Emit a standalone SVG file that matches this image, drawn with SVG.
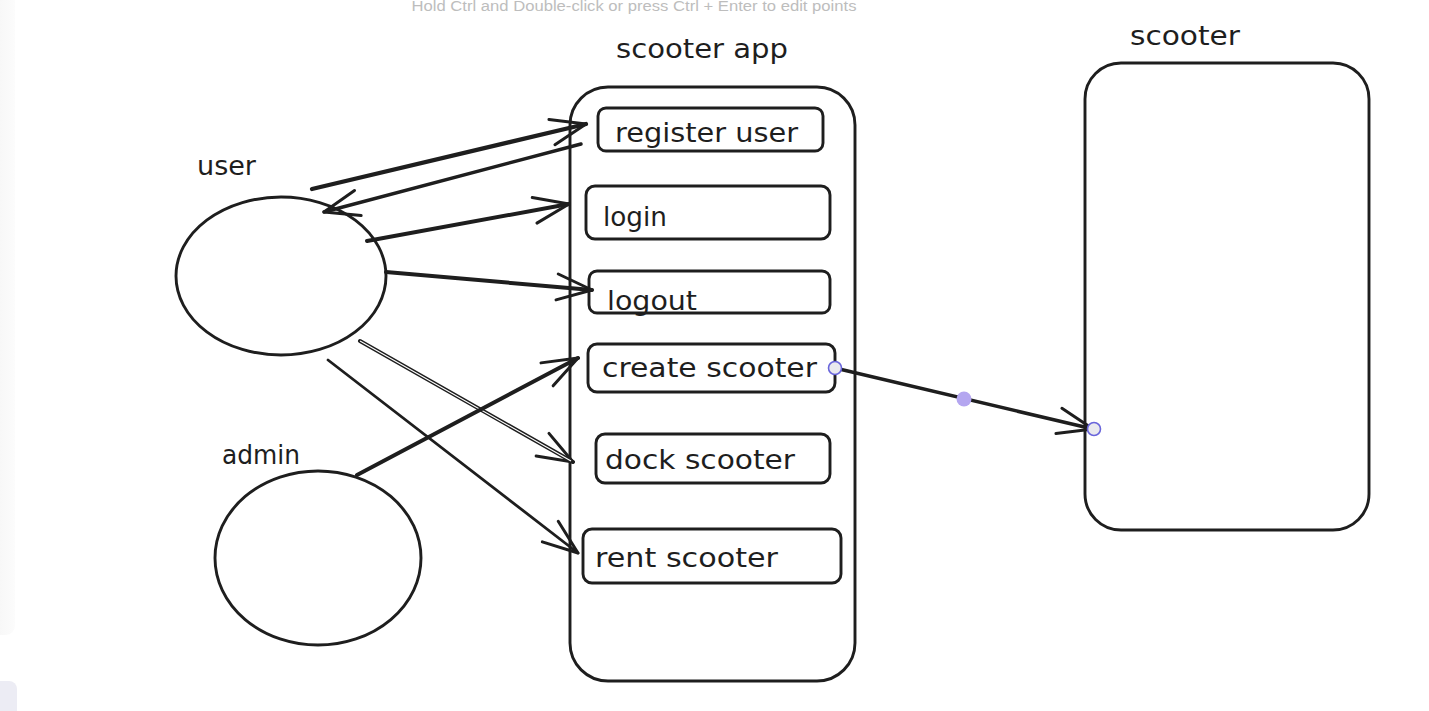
<svg xmlns="http://www.w3.org/2000/svg" width="1429" height="711" viewBox="0 0 1429 711">
<style>
.shape{fill:none;stroke:#1e1e1e;stroke-width:2.9;stroke-linejoin:round}
.box{fill:#ffffff;stroke:#1e1e1e;stroke-width:2.9}
.lbl{font-family:"DejaVu Sans","Liberation Sans",sans-serif;font-size:26px;fill:#1e1e1e}
.arr{fill:none;stroke:#1e1e1e;stroke-width:3.4;stroke-linecap:round;marker-end:url(#head)}
.hint{font-family:"Liberation Sans",Arial,sans-serif;font-size:14px;fill:#bdbdbd}
.handle{fill:#e9e9ee;stroke:#6965db;stroke-width:1.6}
</style>
<defs>
<marker id="head" markerUnits="userSpaceOnUse" orient="auto" refX="0" refY="0" markerWidth="60" markerHeight="40" overflow="visible">
<path d="M -35 -13 L 0 0 L -35 13" fill="none" stroke="#1e1e1e" stroke-width="3" stroke-linecap="round" stroke-linejoin="round"/>
</marker>
<linearGradient id="band" x1="0" y1="0" x2="1" y2="0">
<stop offset="0" stop-color="#f5f5f5"/>
<stop offset="1" stop-color="#fcfcfc"/>
</linearGradient>
</defs>
<rect width="1429" height="711" fill="#ffffff"/>
<rect x="-10" y="-10" width="25" height="645" rx="9" fill="url(#band)"/>
<rect x="-10" y="681" width="27" height="40" rx="8" fill="#ececf4"/>
<text class="hint" x="634" y="11" text-anchor="middle" textLength="445" lengthAdjust="spacingAndGlyphs">Hold Ctrl and Double-click or press Ctrl + Enter to edit points</text>

<g id="user">
<ellipse class="shape" cx="281" cy="276" rx="105" ry="79"/>
<text class="lbl" x="197" y="175" textLength="59" lengthAdjust="spacingAndGlyphs">user</text>
</g>
<g id="admin">
<ellipse class="shape" cx="318" cy="558" rx="103" ry="87"/>
<text class="lbl" x="222" y="464" textLength="78" lengthAdjust="spacingAndGlyphs">admin</text>
</g>

<g id="scooter-app">
<rect class="shape" x="570" y="87" width="285" height="594" rx="38"/>
<text class="lbl" x="616" y="58" textLength="172" lengthAdjust="spacingAndGlyphs">scooter app</text>
</g>
<g id="register-user">
<rect class="box" x="598" y="108" width="225" height="43" rx="8"/>
<text class="lbl" x="615" y="142" textLength="183" lengthAdjust="spacingAndGlyphs">register user</text>
</g>
<g id="login">
<rect class="box" x="586" y="186" width="244" height="53" rx="9"/>
<text class="lbl" x="603" y="226" textLength="64" lengthAdjust="spacingAndGlyphs">login</text>
</g>
<g id="logout">
<rect class="box" x="589" y="271" width="241" height="42" rx="8"/>
<text class="lbl" x="607" y="310" textLength="90" lengthAdjust="spacingAndGlyphs">logout</text>
</g>
<g id="create-scooter">
<rect class="box" x="588" y="344" width="247" height="48" rx="9"/>
<text class="lbl" x="602" y="377" textLength="215" lengthAdjust="spacingAndGlyphs">create scooter</text>
</g>
<g id="dock-scooter">
<rect class="box" x="596" y="434" width="234" height="49" rx="9"/>
<text class="lbl" x="605" y="469" textLength="190" lengthAdjust="spacingAndGlyphs">dock scooter</text>
</g>
<g id="rent-scooter">
<rect class="box" x="583" y="529" width="258" height="54" rx="9"/>
<text class="lbl" x="595" y="567" textLength="183" lengthAdjust="spacingAndGlyphs">rent scooter</text>
</g>

<g id="scooter">
<rect class="shape" x="1085" y="63" width="284" height="467" rx="36"/>
<text class="lbl" x="1130" y="45" textLength="110" lengthAdjust="spacingAndGlyphs">scooter</text>
</g>

<g id="connectors">
<path class="arr" d="M 312 189 L 586 124" style="stroke-width:4.2"/>
<path class="arr" d="M 581 144 L 324 212"/>
<path class="arr" d="M 367 241 L 569 204" style="stroke-width:4"/>
<path class="arr" d="M 386 272 L 592 290" style="stroke-width:4"/>
<path class="arr" d="M 360 341 L 573 462" style="stroke-width:4"/>
<path d="M 360 341 L 571 461" fill="none" stroke="#ffffff" stroke-width="1.1"/>
<path class="arr" d="M 328 360 L 578 553" style="stroke-width:2.8"/>
<path class="arr" d="M 357 475 L 578 358" style="stroke-width:4"/>
<path class="arr" d="M 835 368 L 1093 429" style="stroke-width:3.6"/>
<circle cx="964" cy="399" r="7.5" fill="#b4a6f0"/>
<circle class="handle" cx="835" cy="368" r="6.5"/>
<circle class="handle" cx="1094" cy="429" r="6.5"/>
</g>
</svg>
